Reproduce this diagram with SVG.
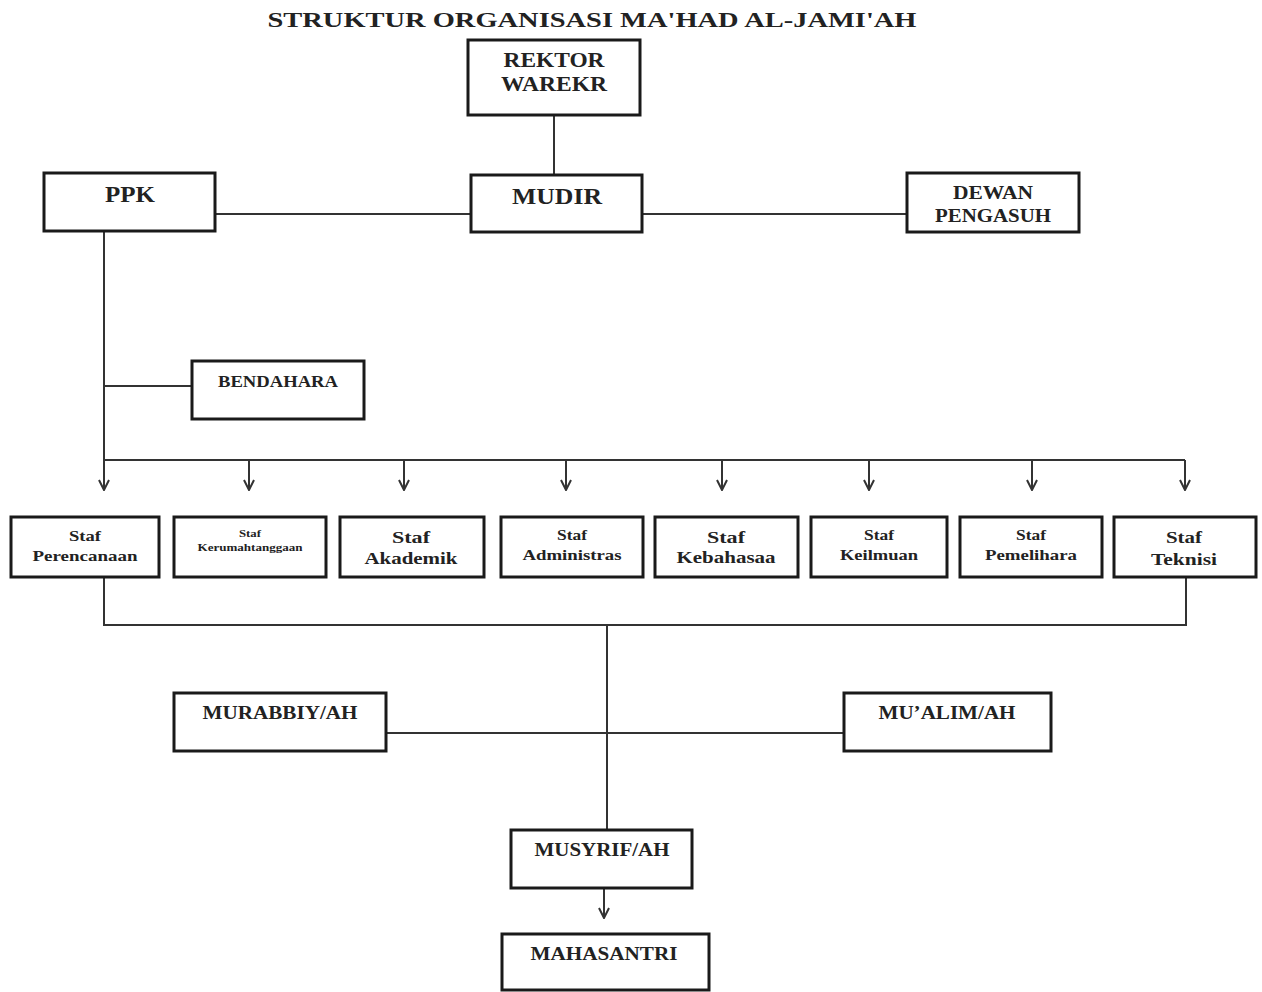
<svg xmlns="http://www.w3.org/2000/svg" width="1262" height="992" viewBox="0 0 1262 992">
<style>
.box{fill:#fff;stroke:#1a1a1a;stroke-width:3}
.ln{fill:none;stroke:#333;stroke-width:2}
text{font-family:"Liberation Serif","Times New Roman",serif;font-weight:bold;fill:#222;text-anchor:middle}
.h{font-size:21px}
</style>
<defs>
<marker id="arr" viewBox="0 0 12 12" refX="11" refY="6" markerWidth="12" markerHeight="12" markerUnits="userSpaceOnUse" orient="auto">
<path d="M1,1 L11,6 L1,11" fill="none" stroke="#333" stroke-width="2"/>
</marker>
</defs>
<rect width="1262" height="992" fill="#fff"/>
<text x="592" y="27" font-size="22" textLength="649" lengthAdjust="spacingAndGlyphs">STRUKTUR ORGANISASI MA'HAD AL-JAMI'AH</text>

<g id="connectors">
<line class="ln" x1="554" y1="115" x2="554" y2="175"/>
<line class="ln" x1="215" y1="214" x2="471" y2="214"/>
<line class="ln" x1="642" y1="214" x2="907" y2="214"/>
<line class="ln" x1="104" y1="231" x2="104" y2="490" marker-end="url(#arr)"/>
<line class="ln" x1="104" y1="386" x2="192" y2="386"/>
<line class="ln" x1="104" y1="460" x2="1185" y2="460"/>
<line class="ln" x1="249" y1="460" x2="249" y2="490" marker-end="url(#arr)"/>
<line class="ln" x1="404" y1="460" x2="404" y2="490" marker-end="url(#arr)"/>
<line class="ln" x1="566" y1="460" x2="566" y2="490" marker-end="url(#arr)"/>
<line class="ln" x1="722" y1="460" x2="722" y2="490" marker-end="url(#arr)"/>
<line class="ln" x1="869" y1="460" x2="869" y2="490" marker-end="url(#arr)"/>
<line class="ln" x1="1032" y1="460" x2="1032" y2="490" marker-end="url(#arr)"/>
<line class="ln" x1="1185" y1="460" x2="1185" y2="490" marker-end="url(#arr)"/>
<polyline class="ln" points="104,577 104,625 1186,625 1186,577"/>
<line class="ln" x1="607" y1="625" x2="607" y2="830"/>
<line class="ln" x1="386" y1="733" x2="844" y2="733"/>
<line class="ln" x1="604" y1="888" x2="604" y2="918" marker-end="url(#arr)"/>
</g>

<g id="rektor"><rect class="box" x="468" y="40" width="172" height="75"/>
<text x="554" y="67" font-size="20" textLength="101" lengthAdjust="spacingAndGlyphs">REKTOR</text>
<text x="554" y="91" font-size="20" textLength="106" lengthAdjust="spacingAndGlyphs">WAREKR</text></g>

<g id="mudir"><rect class="box" x="471" y="175" width="171" height="57"/>
<text x="557" y="204" font-size="23" textLength="90" lengthAdjust="spacingAndGlyphs">MUDIR</text></g>

<g id="ppk"><rect class="box" x="44" y="173" width="171" height="58"/>
<text x="130" y="202" font-size="23" textLength="50" lengthAdjust="spacingAndGlyphs">PPK</text></g>

<g id="dewan"><rect class="box" x="907" y="173" width="172" height="59"/>
<text x="993" y="199" font-size="19" textLength="80" lengthAdjust="spacingAndGlyphs">DEWAN</text>
<text x="993" y="222" font-size="19" textLength="116" lengthAdjust="spacingAndGlyphs">PENGASUH</text></g>

<g id="bendahara"><rect class="box" x="192" y="361" width="172" height="58"/>
<text x="278" y="387" font-size="16" textLength="120" lengthAdjust="spacingAndGlyphs">BENDAHARA</text></g>

<g id="staf-perencanaan"><rect class="box" x="11" y="517" width="148" height="60"/>
<text x="85" y="541" font-size="15" textLength="32" lengthAdjust="spacingAndGlyphs">Staf</text>
<text x="85" y="561" font-size="15" textLength="105" lengthAdjust="spacingAndGlyphs">Perencanaan</text></g>

<g id="staf-kerumahtanggaan"><rect class="box" x="174" y="517" width="152" height="60"/>
<text x="250" y="537" font-size="10" textLength="22" lengthAdjust="spacingAndGlyphs">Staf</text>
<text x="250" y="551" font-size="10" textLength="105" lengthAdjust="spacingAndGlyphs">Kerumahtanggaan</text></g>

<g id="staf-akademik"><rect class="box" x="340" y="517" width="144" height="60"/>
<text x="411" y="543" font-size="17" textLength="38" lengthAdjust="spacingAndGlyphs">Staf</text>
<text x="411" y="564" font-size="17" textLength="93" lengthAdjust="spacingAndGlyphs">Akademik</text></g>

<g id="staf-administras"><rect class="box" x="501" y="517" width="142" height="60"/>
<text x="572" y="540" font-size="14" textLength="30" lengthAdjust="spacingAndGlyphs">Staf</text>
<text x="572" y="560" font-size="14" textLength="99" lengthAdjust="spacingAndGlyphs">Administras</text></g>

<g id="staf-kebahasaa"><rect class="box" x="655" y="517" width="143" height="60"/>
<text x="726" y="543" font-size="16" textLength="38" lengthAdjust="spacingAndGlyphs">Staf</text>
<text x="726" y="563" font-size="16" textLength="99" lengthAdjust="spacingAndGlyphs">Kebahasaa</text></g>

<g id="staf-keilmuan"><rect class="box" x="811" y="517" width="136" height="60"/>
<text x="879" y="540" font-size="14" textLength="30" lengthAdjust="spacingAndGlyphs">Staf</text>
<text x="879" y="560" font-size="14" textLength="78" lengthAdjust="spacingAndGlyphs">Keilmuan</text></g>

<g id="staf-pemelihara"><rect class="box" x="960" y="517" width="142" height="60"/>
<text x="1031" y="540" font-size="14" textLength="30" lengthAdjust="spacingAndGlyphs">Staf</text>
<text x="1031" y="560" font-size="14" textLength="92" lengthAdjust="spacingAndGlyphs">Pemelihara</text></g>

<g id="staf-teknisi"><rect class="box" x="1114" y="517" width="142" height="60"/>
<text x="1184" y="543" font-size="17" textLength="36" lengthAdjust="spacingAndGlyphs">Staf</text>
<text x="1184" y="565" font-size="17" textLength="66" lengthAdjust="spacingAndGlyphs">Teknisi</text></g>

<g id="murabbiyah"><rect class="box" x="174" y="693" width="212" height="58"/>
<text x="280" y="719" font-size="19" textLength="155" lengthAdjust="spacingAndGlyphs">MURABBIY/AH</text></g>

<g id="mualimah"><rect class="box" x="844" y="693" width="207" height="58"/>
<text x="947" y="719" font-size="19" textLength="137" lengthAdjust="spacingAndGlyphs">MU’ALIM/AH</text></g>

<g id="musyrifah"><rect class="box" x="511" y="830" width="181" height="58"/>
<text x="602" y="856" font-size="19" textLength="135" lengthAdjust="spacingAndGlyphs">MUSYRIF/AH</text></g>

<g id="mahasantri"><rect class="box" x="502" y="934" width="207" height="56"/>
<text x="604" y="960" font-size="19" textLength="147" lengthAdjust="spacingAndGlyphs">MAHASANTRI</text></g>
</svg>
